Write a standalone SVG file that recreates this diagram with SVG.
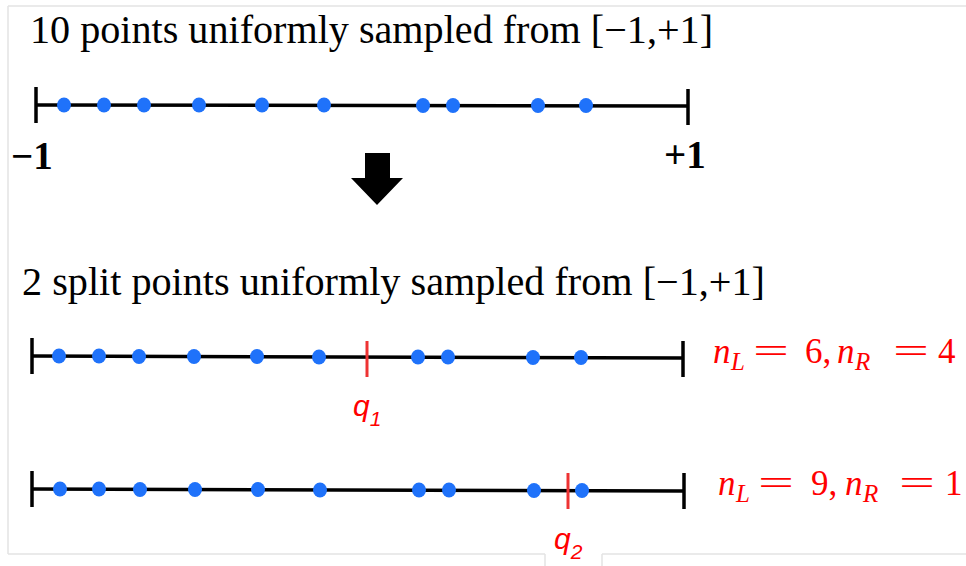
<svg xmlns="http://www.w3.org/2000/svg" width="966" height="566" viewBox="0 0 966 566">
<defs>
<style>
.frame{stroke:#e4e4e4;stroke-width:1.5;fill:none}
.axis{stroke:#000;stroke-width:3.5;fill:none}
.tick{stroke:#000;stroke-width:3.5}
.split{stroke:#ee3333;stroke-width:3}
.dot{fill:#1f72fa}
.title{font-family:"Liberation Serif","Times New Roman",serif;fill:#000}
.end{font-family:"Liberation Serif","Times New Roman",serif;font-weight:bold;font-size:39px;fill:#000}
.math{font-family:"Liberation Serif","Times New Roman",serif;fill:#ff0000;font-size:35px}
.mi{font-style:italic}
.sub{font-size:25px}
.q{font-family:"Liberation Sans",Arial,sans-serif;font-style:italic;fill:#ff0000;font-size:30px}
.qs{font-size:21px}
</style>
</defs>
<rect width="966" height="566" fill="#ffffff"/>
<g id="frame">
<path class="frame" d="M8,6 H966 M8,6 V554 M8,554 H545 M602,554 H966 M545,554 V566 M602,554 V566"/>
</g>
<g id="title1"><text class="title" x="30" y="43" font-size="39" textLength="683" lengthAdjust="spacingAndGlyphs">10 points uniformly sampled from [−1,+1]</text></g>
<g id="axis1">
<line class="axis" x1="36" y1="105" x2="688" y2="106"/>
<line class="tick" x1="36" y1="87" x2="36" y2="123"/>
<line class="tick" x1="688" y1="89" x2="688" y2="125"/>
<g class="dot">
<ellipse cx="64" cy="105" rx="7" ry="7.5"/>
<ellipse cx="104" cy="105" rx="7" ry="7.5"/>
<ellipse cx="144" cy="105" rx="7" ry="7.5"/>
<ellipse cx="199" cy="105" rx="7" ry="7.5"/>
<ellipse cx="262" cy="105" rx="7" ry="7.5"/>
<ellipse cx="324" cy="105" rx="7" ry="7.5"/>
<ellipse cx="423" cy="105.5" rx="7" ry="7.5"/>
<ellipse cx="453" cy="105.5" rx="7" ry="7.5"/>
<ellipse cx="538" cy="105.5" rx="7" ry="7.5"/>
<ellipse cx="586" cy="105.5" rx="7" ry="7.5"/>
</g>
<text class="end" x="11" y="169">−1</text>
<text class="end" x="664" y="168">+1</text>
</g>
<g id="arrow">
<polygon fill="#000" points="365,153 390,153 390,178 403,178 377,205 351,178 365,178"/>
</g>
<g id="title2"><text class="title" x="22" y="295" font-size="40" textLength="743" lengthAdjust="spacingAndGlyphs">2 split points uniformly sampled from [−1,+1]</text></g>
<g id="axis2">
<line class="axis" x1="32" y1="356" x2="683" y2="358"/>
<line class="tick" x1="32" y1="338" x2="32" y2="374"/>
<line class="tick" x1="683" y1="341" x2="683" y2="377"/>
<g class="dot">
<ellipse cx="59" cy="356" rx="7" ry="7.5"/>
<ellipse cx="99" cy="356" rx="7" ry="7.5"/>
<ellipse cx="139" cy="356.5" rx="7" ry="7.5"/>
<ellipse cx="194" cy="356.5" rx="7" ry="7.5"/>
<ellipse cx="257" cy="356.5" rx="7" ry="7.5"/>
<ellipse cx="319" cy="357" rx="7" ry="7.5"/>
<ellipse cx="418" cy="357" rx="7" ry="7.5"/>
<ellipse cx="448" cy="357" rx="7" ry="7.5"/>
<ellipse cx="533" cy="357.5" rx="7" ry="7.5"/>
<ellipse cx="581" cy="357.5" rx="7" ry="7.5"/>
</g>
<line class="split" x1="367" y1="341" x2="367" y2="377"/>
<text class="q" x="353" y="416">q<tspan class="qs" dy="10">1</tspan></text>
<g class="math">
<text x="713" y="363" class="mi">n</text>
<text x="731" y="370" class="mi sub">L</text>
<text x="753" y="363" textLength="36" lengthAdjust="spacingAndGlyphs">=</text>
<text x="805" y="363">6,</text>
<text x="837" y="363" class="mi">n</text>
<text x="855" y="370" class="mi sub">R</text>
<text x="893" y="363" textLength="36" lengthAdjust="spacingAndGlyphs">=</text>
<text x="938" y="363">4</text>
</g>
</g>
<g id="axis3">
<line class="axis" x1="32" y1="489" x2="684" y2="491"/>
<line class="tick" x1="32" y1="471" x2="32" y2="507"/>
<line class="tick" x1="684" y1="473" x2="684" y2="509"/>
<g class="dot">
<ellipse cx="60" cy="489" rx="7" ry="7.5"/>
<ellipse cx="99" cy="489" rx="7" ry="7.5"/>
<ellipse cx="140" cy="489.5" rx="7" ry="7.5"/>
<ellipse cx="195" cy="489.5" rx="7" ry="7.5"/>
<ellipse cx="258" cy="489.5" rx="7" ry="7.5"/>
<ellipse cx="320" cy="490" rx="7" ry="7.5"/>
<ellipse cx="419" cy="490" rx="7" ry="7.5"/>
<ellipse cx="449" cy="490" rx="7" ry="7.5"/>
<ellipse cx="534" cy="490.5" rx="7" ry="7.5"/>
<ellipse cx="582" cy="490.5" rx="7" ry="7.5"/>
</g>
<line class="split" x1="568" y1="473" x2="568" y2="509"/>
<text class="q" x="554" y="549">q<tspan class="qs" dy="10">2</tspan></text>
<g class="math">
<text x="718" y="495" class="mi">n</text>
<text x="736" y="502" class="mi sub">L</text>
<text x="758" y="495" textLength="36" lengthAdjust="spacingAndGlyphs">=</text>
<text x="811" y="495">9,</text>
<text x="845" y="495" class="mi">n</text>
<text x="863" y="502" class="mi sub">R</text>
<text x="899" y="495" textLength="36" lengthAdjust="spacingAndGlyphs">=</text>
<text x="945" y="495">1</text>
</g>
</g>
</svg>
